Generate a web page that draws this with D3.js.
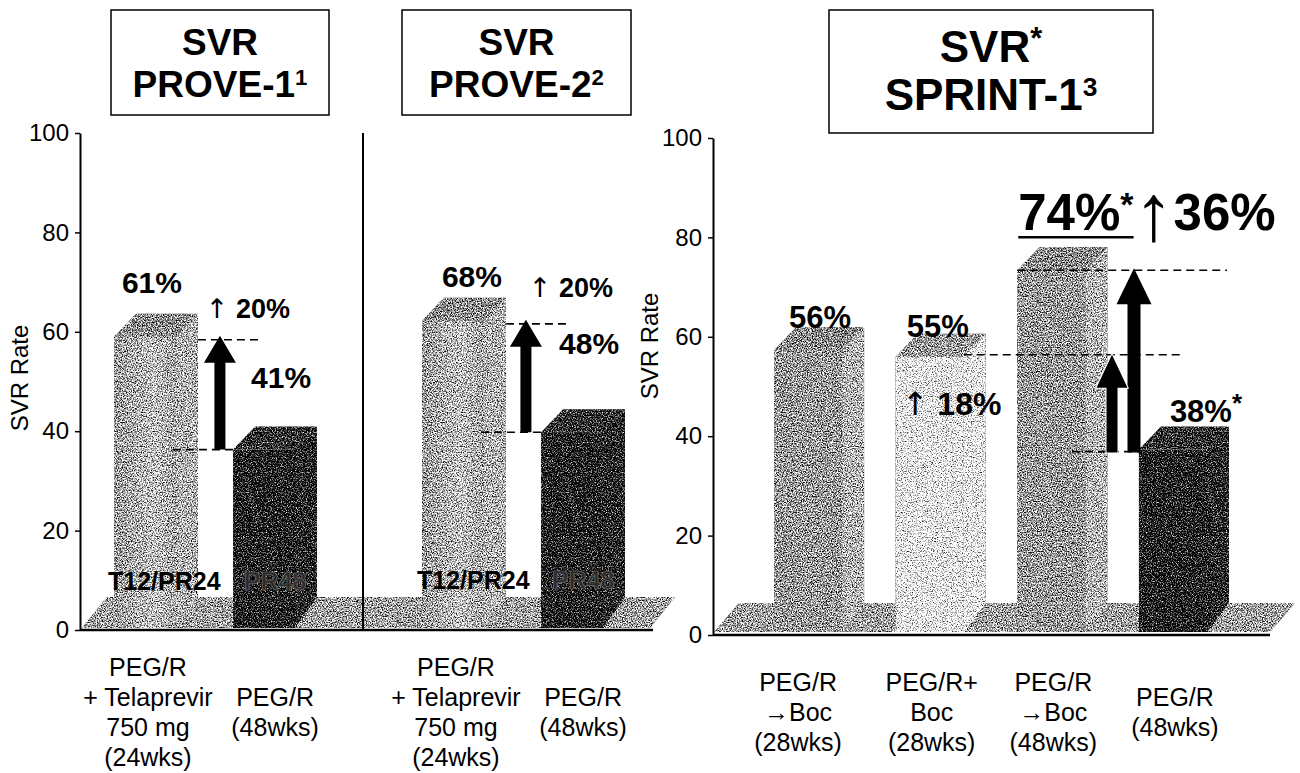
<!DOCTYPE html>
<html>
<head>
<meta charset="UTF-8">
<script src="https://cdn.jsdelivr.net/npm/d3@7/dist/d3.min.js"></script>
<style>
body{ margin:0; background:#fff; }
svg{ display:block; font-family:"Liberation Sans", Arial, Helvetica, sans-serif; }
</style>
</head>
<body>
<script>
var width = 1300, height = 773;

// ---- data ----
var yTicks = [0, 20, 40, 60, 80, 100];

// PROVE-1 / PROVE-2 : telaprevir arm vs control
var proveCats = ["T12/PR24", "PR48"];
var prove1Heights = [59, 36.3];      // height of the bars as drawn (front edge)
var prove1Labels = ["61%", "41%"];
var prove2Heights = [62.2, 39.8];
var prove2Labels = ["68%", "48%"];
var proveGain = "20%";
var proveTickLines = [
  ["PEG/R", "+ Telaprevir", "750 mg", "(24wks)"],
  ["PEG/R", "(48wks)"]
];

// SPRINT-1 : boceprevir arms vs control
var sprintCats = ["PR/Boc28", "PRBoc28", "PR/Boc48", "PR48"];
var sprintHeights = [57.3, 56, 73.4, 37.3];
var sprintLabels = ["56%", "55%", "74%", "38%"];
var sprintGains = ["18%", "36%"];
var sprintTickLines = [
  ["PEG/R", "\u2192Boc", "(28wks)"],
  ["PEG/R+", "Boc", "(28wks)"],
  ["PEG/R", "\u2192Boc", "(48wks)"],
  ["PEG/R", "(48wks)"]
];

// ---- layout ----
var DX = 22, DY = 23;          // bar depth offset
var FDX = 25;                  // floor depth (x)
var svg = d3.select("body").append("svg")
  .attr("width", width).attr("height", height);

var defs = svg.append("defs");
var dither = defs.append("filter").attr("id", "dither")
  .attr("filterUnits", "userSpaceOnUse")
  .attr("x", 0).attr("y", 0).attr("width", width).attr("height", height)
  .attr("color-interpolation-filters", "sRGB");
dither.append("feTurbulence").attr("type", "fractalNoise")
  .attr("baseFrequency", 0.8).attr("numOctaves", 2).attr("seed", 7).attr("result", "noise");
dither.append("feColorMatrix").attr("in", "noise").attr("type", "matrix")
  .attr("values", "1 0 0 0 0  1 0 0 0 0  1 0 0 0 0  0 0 0 0 1").attr("result", "grain");
dither.append("feComposite").attr("in", "SourceGraphic").attr("in2", "grain")
  .attr("operator", "arithmetic").attr("k1", 0).attr("k2", 1).attr("k3", 2.6).attr("k4", -1.3)
  .attr("result", "mix");
dither.append("feComposite").attr("in", "mix").attr("in2", "SourceAlpha").attr("operator", "in");

var lg = defs.append("linearGradient").attr("id", "lightFront");
lg.append("stop").attr("offset", "0%").attr("stop-color", "#9a9a9a");
lg.append("stop").attr("offset", "65%").attr("stop-color", "#c6c6c6");
lg.append("stop").attr("offset", "100%").attr("stop-color", "#a4a4a4");

var shades = {
  light: {front: "url(#lightFront)", top: "#8c8c8c", side: "#b4b4b4"},
  mid:   {front: "#999999", top: "#8a8a8a", side: "#b8b8b8"},
  dark:  {front: "#151515", top: "#262626", side: "#1c1c1c"},
  pale:  {front: "#f3f3f3", top: "#9c9c9c", side: "#f6f6f6"},
  floor: "#a2a2a2"
};

var yL = d3.scaleLinear().domain([0, 100]).range([630, 133]);
var yR = d3.scaleLinear().domain([0, 100]).range([635, 138]);
var x1 = d3.scaleBand().domain(proveCats).range([114, 295]).paddingInner(0.48).paddingOuter(0);
var x2 = d3.scaleBand().domain(proveCats).range([422, 603]).paddingInner(0.48).paddingOuter(0);
var x3 = d3.scaleBand().domain(sprintCats).range([774, 1207]).paddingInner(0.44).paddingOuter(0);

var axisL = 80, axisR = 713, divider = 363;

var tex = svg.append("g").attr("filter", "url(#dither)");

function floor(yBase, yTop, xa, xb) {
  tex.append("path")
    .attr("d", "M" + xa + "," + yBase + "L" + (xa + FDX) + "," + yTop +
      "L" + (xb + FDX) + "," + yTop + "L" + xb + "," + yBase + "Z")
    .attr("fill", shades.floor);
}
floor(yL(0) - 2, yL(0) - 33, axisL + 2, 650);
floor(yR(0) - 3, yR(0) - 32, axisR + 1, 1270);

function bar3d(x, w, yt, yb, yf, c) {
  tex.append("rect").attr("x", x).attr("y", yt).attr("width", w).attr("height", yb - yt)
    .attr("fill", c.front);
  tex.append("path").attr("d", "M" + x + "," + yt + "L" + (x + DX) + "," + (yt - DY) +
    "L" + (x + w + DX) + "," + (yt - DY) + "L" + (x + w) + "," + yt + "Z").attr("fill", c.top);
  tex.append("path").attr("d", "M" + (x + w) + "," + yt + "L" + (x + w + DX) + "," + (yt - DY) +
    "L" + (x + w + DX) + "," + yf + "L" + (x + w) + "," + yb + "Z").attr("fill", c.side);
}

var proveShade = [shades.light, shades.dark];
proveCats.forEach(function(c, i) {
  bar3d(x1(c), x1.bandwidth(), yL(prove1Heights[i]), yL(0) - 2, yL(0) - 33, proveShade[i]);
  bar3d(x2(c), x2.bandwidth(), yL(prove2Heights[i]), yL(0) - 2, yL(0) - 33, proveShade[i]);
});
var sprintShade = [shades.mid, shades.pale, shades.mid, shades.dark];
sprintCats.forEach(function(c, i) {
  bar3d(x3(c), x3.bandwidth(), yR(sprintHeights[i]), yR(0) - 3, yR(0) - 32, sprintShade[i]);
});

// ---- axes ----
function yAxis(x, y) {
  var g = svg.append("g").attr("transform", "translate(" + x + ",0)")
    .call(d3.axisLeft(y).tickValues(yTicks).tickSize(5).tickSizeOuter(0).tickPadding(6));
  g.attr("font-size", 24).attr("font-family", null);
  g.select(".domain").attr("stroke-width", 2);
  g.selectAll(".tick line").attr("stroke-width", 1.5);
  g.selectAll(".tick text").attr("fill", "#000");
}
yAxis(axisL, yL);
yAxis(axisR, yR);

svg.append("line").attr("x1", axisL).attr("x2", 653).attr("y1", yL(0)).attr("y2", yL(0))
  .attr("stroke", "#000").attr("stroke-width", 2.5);
svg.append("line").attr("x1", axisR).attr("x2", 1270).attr("y1", yR(0)).attr("y2", yR(0))
  .attr("stroke", "#000").attr("stroke-width", 2.5);
svg.append("line").attr("x1", divider).attr("x2", divider).attr("y1", yL(100)).attr("y2", yL(0))
  .attr("stroke", "#000").attr("stroke-width", 2);

function axisTitle(x, y) {
  svg.append("text").attr("transform", "translate(" + x + "," + y + ") rotate(-90)")
    .attr("text-anchor", "middle").attr("font-size", 24).text("SVR Rate");
}
axisTitle(28, 378);
axisTitle(658, 346);

// ---- title boxes ----
function titleBox(x, y, w, h, l1, sup1, l2, sup2, fs, b1, b2) {
  svg.append("rect").attr("x", x).attr("y", y).attr("width", w).attr("height", h)
    .attr("fill", "none").attr("stroke", "#000").attr("stroke-width", 1.5);
  var cx = x + w / 2;
  var t1 = svg.append("text").attr("x", cx).attr("y", b1).attr("text-anchor", "middle")
    .attr("font-weight", "bold").attr("font-size", fs).text(l1);
  if (sup1) t1.append("tspan").attr("font-size", fs * 0.7).attr("dy", -fs * 0.3).text(sup1);
  var t2 = svg.append("text").attr("x", cx).attr("y", b2).attr("text-anchor", "middle")
    .attr("font-weight", "bold").attr("font-size", fs).text(l2);
  if (sup2) t2.append("tspan").attr("font-size", fs * 0.6).attr("dy", -fs * 0.32).text(sup2);
}
titleBox(111, 10, 218, 105, "SVR", null, "PROVE-1", "1", 37, 55, 97);
titleBox(402, 10, 229, 105, "SVR", null, "PROVE-2", "2", 37, 55, 97);
titleBox(829, 10, 324, 123, "SVR", "*", "SPRINT-1", "3", 44, 62, 110);

// ---- x labels ----
function xLabel(cx, lines, midBase) {
  var first = midBase - (lines.length - 1) * 15;
  var t = svg.append("text").attr("text-anchor", "middle").attr("font-size", 25);
  lines.forEach(function(s, k) {
    t.append("tspan").attr("x", cx).attr("y", first + k * 30).text(s);
  });
}
[x1, x2].forEach(function(xs) {
  xLabel(xs(proveCats[0]) + xs.bandwidth() / 2 + 3, proveTickLines[0], 721);
  xLabel(xs(proveCats[1]) + (xs.bandwidth() + DX) / 2, proveTickLines[1], 721);
});
sprintCats.forEach(function(c, i) {
  xLabel(x3(c) + x3.bandwidth() / 2 + (i === 0 ? -10 : 2), sprintTickLines[i], 721);
});

// ---- labels inside the floor ----
[x1, x2].forEach(function(xs, p) {
  var yb = yL(0) - 40 + (p ? -1 : 0);
  svg.append("text").attr("x", xs(proveCats[0]) - 6 + p * 1).attr("y", yb)
    .attr("font-weight", "bold").attr("font-size", 25).text(proveCats[0]);
  svg.append("text").attr("x", xs(proveCats[1]) + (xs.bandwidth() + DX) / 2).attr("y", yb)
    .attr("text-anchor", "middle").attr("font-weight", "bold").attr("font-size", 25)
    .attr("fill", "#2a2a2a").attr("stroke", "#707070").attr("stroke-width", 0.7)
    .text(proveCats[1]);
});

// ---- dashed guides and arrows ----
function dash(xa, xb, y) {
  svg.append("line").attr("x1", xa).attr("x2", xb).attr("y1", y).attr("y2", y)
    .attr("stroke", "#000").attr("stroke-width", 1.6).attr("stroke-dasharray", "8,5");
}
function arrow(cx, yBase, yTip, sw, hw, hh, outline) {
  svg.append("path")
    .attr("d", "M" + (cx - sw / 2) + "," + yBase + "V" + (yTip + hh) + "H" + (cx - hw / 2) +
      "L" + cx + "," + yTip + "L" + (cx + hw / 2) + "," + (yTip + hh) + "H" + (cx + sw / 2) +
      "V" + yBase + "Z")
    .attr("fill", "#000")
    .attr("stroke", outline ? "#fff" : "none").attr("stroke-width", outline ? 2 : 0)
    .attr("paint-order", "stroke");
}
function valueText(x, y, s, fs, anchor) {
  return svg.append("text").attr("x", x).attr("y", y).attr("text-anchor", anchor || "middle")
    .attr("font-weight", "bold").attr("font-size", fs).text(s);
}
function gainText(x, y, s, fs, anchor) {
  var t = svg.append("text").attr("x", x).attr("y", y).attr("text-anchor", anchor || "middle")
    .attr("font-weight", "bold").attr("font-size", fs);
  t.append("tspan").attr("font-weight", "normal").attr("font-family", "DejaVu Sans").text("\u2191");
  t.append("tspan").text(" " + s);
  return t;
}

[[x1, prove1Heights, prove1Labels], [x2, prove2Heights, prove2Labels]].forEach(function(p, k) {
  var xs = p[0], h = p[1], lab = p[2];
  var bw = xs.bandwidth();
  var r0 = xs(proveCats[0]) + bw;          // front right edge of the treated bar
  var yHi = yL(h[0]), yLo = yL(h[1]);
  dash(r0 + DX, r0 + 85, yHi + 3);
  dash(r0 - 3, xs(proveCats[1]), yLo);
  arrow(r0 + 44 - k * 2, yLo, yHi - 1, 11, 32, 27, false);
  valueText(xs(proveCats[0]) + bw / 2 + (k ? 19 : 7), yHi - (k ? 34 : 44), lab[0], 30);
  valueText(xs(proveCats[1]) + (bw + DX) / 2 + 6, yLo - (k ? 78 : 62), lab[1], 30);
  gainText(r0 + (k ? 87 : 72), yHi - (k ? 24 : 19), proveGain, 27);
});

// SPRINT-1
var bw3 = x3.bandwidth();
var yA = yR(sprintHeights[0]), yB = yR(sprintHeights[1]), yC = yR(sprintHeights[2]), yD = yR(sprintHeights[3]);
dash(x3(sprintCats[2]), 1227, yC);
dash(x3(sprintCats[1]) + bw3, 1183, yB - 2);
dash(1072, x3(sprintCats[3]), yD + 2);
arrow(1134, yD + 3, yC - 2, 13, 35, 36, false);
arrow(1112, yD + 3, yB - 2, 11, 31, 33, true);

valueText(x3(sprintCats[0]) + bw3 / 2 + 12, yA - 22, sprintLabels[0], 31);
valueText(x3(sprintCats[1]) + bw3 / 2 + 8, yB - 20, sprintLabels[1], 31);
gainText(x3(sprintCats[1]) + 6, yB + 58, sprintGains[0], 32, "start");

// "74%* ↑ 36%" as one line of text, underline under the first part
var big = valueText(x3(sprintCats[2]) + 1, yC - 40, sprintLabels[2], 51, "start");
big.append("tspan").attr("font-size", 34).attr("dy", -14).text("*");
big.append("tspan").attr("font-weight", "normal").attr("font-size", 80)
  .attr("dy", 24).text("\u2191");
big.append("tspan").attr("dy", -10).text(sprintGains[1]);
var starEnd = big.node().getEndPositionOfChar(3).x;
svg.append("line").attr("x1", x3(sprintCats[2]) + 1).attr("x2", starEnd)
  .attr("y1", yC - 33).attr("y2", yC - 33)
  .attr("stroke", "#000").attr("stroke-width", 2.5);

var t38 = valueText(x3(sprintCats[3]) + 31, yD - 28, sprintLabels[3], 31, "start");
t38.append("tspan").attr("font-size", 26).attr("dy", -10).text("*");
</script>
</body>
</html>
